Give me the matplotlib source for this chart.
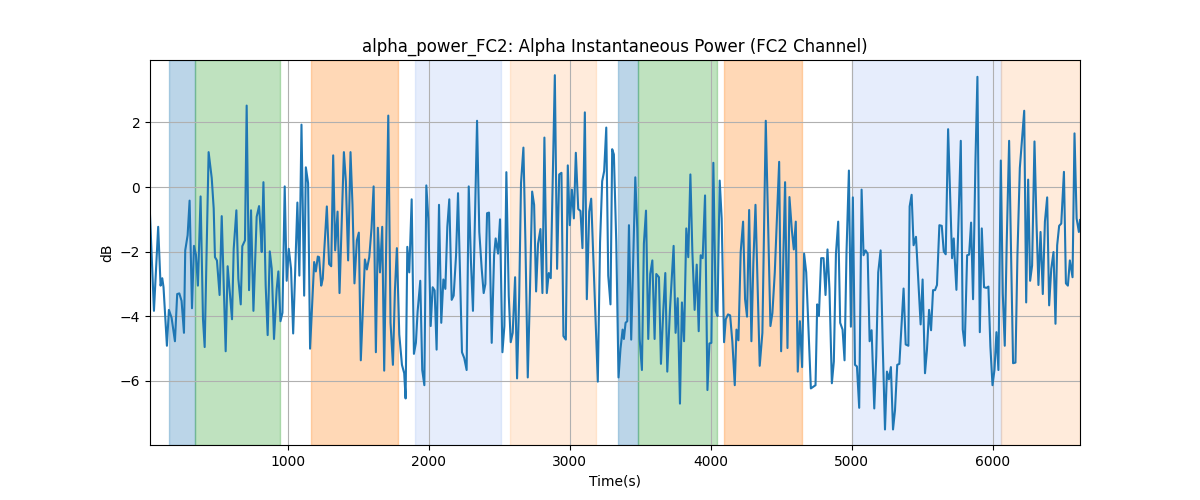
import numpy as np
import matplotlib
matplotlib.use("Agg")
import matplotlib.pyplot as plt

# time (s) and alpha power (dB)
t = [20, 48, 78, 95, 107, 116, 140, 154, 173, 197, 213, 228, 244, 261, 270, 287, 301, 318, 332, 346,
     360, 379, 396, 408, 436, 458, 472, 481, 495, 514, 529, 557, 571, 588, 602, 614, 633, 647, 664, 675,
     694, 706, 723, 737, 754, 777, 794, 803, 813, 825, 841, 855, 870, 884, 900, 919, 931, 946, 960, 976,
     990, 1005, 1021, 1036, 1066, 1080, 1095,
     1114, 1126, 1142, 1156, 1185, 1197, 1211, 1220, 1235, 1246, 1256, 1275, 1291, 1306, 1320, 1334, 1351, 1365, 1396, 1410,
     1426, 1443, 1457, 1471, 1488, 1502, 1516, 1545, 1559, 1576, 1592, 1607, 1623, 1637, 1652, 1668, 1682, 1711, 1727, 1744,
     1758, 1772, 1789, 1808, 1824, 1834, 1846, 1860, 1877, 1893, 1907, 1919, 1938, 1952, 1967, 1981, 1995, 2012, 2026, 2040,
     2054, 2071, 2087, 2102, 2116, 2130, 2144, 2161, 2175, 2192, 2206,
     2234, 2250, 2267, 2282, 2298, 2312, 2341, 2357, 2374, 2388, 2400, 2412, 2426, 2445, 2462, 2473, 2490, 2504, 2521, 2535,
     2549, 2566, 2580, 2594, 2611, 2625, 2640, 2653, 2670, 2684, 2701, 2715, 2732, 2746, 2760, 2774, 2791, 2805, 2819, 2836,
     2850, 2864, 2893, 2909, 2924, 2940, 2954, 2971, 2985, 2999, 3014, 3028, 3042, 3059, 3075, 3089, 3106, 3120, 3137, 3151,
     3198, 3214, 3229, 3243, 3258, 3272, 3288,
     3300, 3312, 3329, 3345, 3359, 3374, 3383, 3395, 3407, 3419, 3435, 3450, 3464, 3478, 3495, 3511, 3525, 3540, 3556, 3570,
     3585, 3601, 3613, 3632, 3646, 3663, 3677, 3691, 3710, 3736, 3750, 3765, 3781, 3795, 3810, 3826, 3840, 3855, 3869, 3885,
     3900, 3914, 3928, 3942, 3959, 3976, 3990, 4004, 4018, 4035, 4047, 4063, 4077, 4094, 4106, 4122, 4137, 4153, 4170, 4182,
     4196, 4212, 4229, 4243, 4257, 4272, 4288, 4302, 4317, 4333, 4347, 4366, 4390,
     4423, 4437, 4454, 4485, 4499, 4527, 4544, 4558, 4575, 4589, 4603, 4617, 4632, 4648, 4662, 4677, 4693, 4710, 4726, 4743,
     4755, 4767, 4783, 4800, 4814, 4828, 4842, 4859, 4873, 4888, 4904, 4918, 4935, 4949, 4963, 4980, 4994, 5008, 5023, 5037,
     5053, 5070, 5084, 5098, 5113, 5127, 5141, 5160, 5174, 5188, 5205, 5219, 5236, 5250, 5264, 5278, 5293, 5307, 5323, 5338,
     5352, 5368, 5383, 5402, 5411, 5425, 5439, 5456, 5473, 5489, 5503, 5520,
     5534, 5549, 5563, 5577, 5591, 5605, 5622, 5639, 5653, 5667, 5684, 5700, 5712, 5724, 5731, 5743, 5759, 5774, 5788, 5802,
     5819, 5833, 5847, 5861, 5878, 5892, 5909, 5923, 5939, 5956, 5970, 5984, 5999, 6013, 6027, 6041, 6058, 6072, 6086, 6100,
     6117, 6131, 6145, 6162, 6176, 6193, 6209, 6224, 6238, 6252, 6266, 6280, 6297, 6311, 6325, 6340, 6356, 6371, 6387, 6401,
     6416, 6432, 6446, 6458, 6472, 6487, 6506, 6520, 6534, 6548, 6567, 6581, 6596, 6612, 6620]

power_db = [-0.86, -3.83, -1.23, -3.05, -2.82, -3.10, -4.91, -3.80, -4.04, -4.77, -3.31, -3.29, -3.52, -4.51, -1.96, -1.49, -0.42, -3.75, -1.82, -2.09,
            -3.05, -0.29, -4.09, -4.95, 1.08, 0.28, -0.66, -2.17, -2.27, -3.34, -0.90, -5.08, -2.45, -3.36, -4.09, -1.91, -0.72, -2.84, -3.63, -1.83,
            -1.65, 2.52, -3.19, -0.72, -3.83, -0.92, -0.59, -1.18, -2.01, 0.15, -3.05, -4.58, -1.99, -2.53, -4.70, -3.16, -2.61, -4.15, -3.89, 0.02,
            -2.90, -1.91, -2.53, -4.53, -0.48, -2.74, 1.93,
            -3.36, 0.61, 0.12, -5.00, -2.32, -2.61, -2.15, -2.17, -3.05, -2.84, -2.01, -0.60, -2.38, -2.45, 0.98, -1.96, -0.76, -3.28, 1.08, 0.18,
            -2.27, 1.08, -0.55, -2.98, -1.65, -1.41, -5.36, -2.24, -2.55, -2.17, -1.28, 0.02, -5.11, -1.26, -2.64, -1.23, -5.68, 2.21, -4.20, -5.50,
            -3.21, -1.89, -4.56, -5.50, -5.76, -6.54, -1.85, -2.64, -0.38, -5.16, -4.82, -3.86, -2.90, -5.66, -6.13, 0.05, -0.97, -4.30, -3.10, -3.20,
            -5.03, -0.55, -4.20, -2.86, -3.15, -1.23, -0.38, -3.49, -3.36, -2.11, -0.19,
            -5.11, -5.29, -5.66, 0.02, -2.34, -3.83, 2.05, -1.39, -2.53, -3.28, -3.00, -0.81, -0.79, -4.82, -2.11, -1.59, -2.06, -1.00, -5.11, -4.30,
            0.46, -3.36, -4.80, -4.51, -2.79, -5.92, -3.40, 0.12, 1.22, -1.65, -5.89, -3.50, -0.14, -0.55, -3.23, -1.75, -1.30, -3.28, 1.53, -3.28,
            -2.66, -2.82, 3.46, -2.53, 0.39, 0.44, -4.61, -4.72, 0.67, -1.18, -0.08, -0.97, 1.06, -0.68, -0.74, -1.89, 2.31, -3.47, -0.76, -0.36,
            -6.02, -1.70, 0.18, 0.49, 1.84, -2.74, -3.63,
            1.17, 1.01, -1.70, -5.89, -5.00, -4.41, -4.70, -4.20, -4.15, -1.18, -4.72, -2.06, 0.30, -1.28, -4.70, -5.66, -1.75, -0.73, -4.70, -2.69,
            -2.27, -4.70, -2.69, -2.79, -5.47, -3.80, -2.66, -5.71, -3.80, -1.82, -4.51, -3.44, -6.70, -3.57, -4.77, -1.28, -2.17, 0.39, -2.00, -3.80,
            -2.40, -4.46, -2.11, -2.20, -0.26, -6.28, -4.84, -4.82, 0.75, -3.83, -3.99, 0.20, -0.97, -4.80, -4.09, -3.94, -3.97, -4.80, -6.13, -4.41,
            -4.74, -2.01, -1.07, -3.47, -4.01, -0.71, -4.77, -2.32, -0.55, -3.20, -5.53, -4.51, 2.05,
            -4.30, -3.90, -2.64, 0.78, -5.08, 0.15, -4.98, -0.31, -1.33, -1.93, -1.07, -5.71, -4.15, -5.57, -2.06, -2.64, -4.41, -6.23, -6.18, -6.13,
            -3.63, -3.99, -2.20, -2.20, -3.34, -1.93, -3.16, -6.07, -5.40, -2.06, -1.07, -4.20, -4.41, -5.36, -2.01, 0.51, -4.32, -0.32, -5.50, -5.55,
            -6.83, -0.08, -2.11, -1.96, -2.06, -4.77, -4.43, -6.85, -5.24, -2.64, -1.96, -4.72, -7.50, -5.71, -5.95, -5.57, -7.50, -6.91, -5.50, -5.47,
            -4.41, -3.14, -4.87, -4.91, -0.60, -0.24, -1.80, -1.54, -2.95, -4.25, -2.86, -5.76,
            -5.03, -3.80, -4.43, -3.19, -3.19, -3.03, -1.18, -1.20, -1.99, -2.08, 1.79, -0.45, -2.20, -1.59, -2.22, -3.18, -0.86, 1.43, -4.41, -4.91,
            -2.11, -2.09, -1.10, -3.47, 0.80, 3.41, -4.49, -1.28, -3.10, -3.12, -3.08, -4.93, -6.13, -5.66, -4.49, -5.66, 0.82, -3.30, -4.91, -1.70,
            1.43, -2.11, -5.45, -5.43, -2.11, 0.59, 1.50, 2.36, -3.57, 0.23, -2.90, -2.43, 1.41, -1.07, -3.03, -1.39, -3.31, -1.07, -0.32, -3.66,
            -2.53, -2.01, -4.23, -1.80, -1.20, -1.13, 0.47, -2.98, -3.05, -2.27, -2.79, 1.66, -0.97, -1.39, -1.02]

# shaded phases
span_start = [158, 340, 1160, 1898, 2572, 3340, 3485, 4094, 5004, 6060]
span_end = [340, 943, 1782, 2512, 3182, 3485, 4042, 4645, 6060, 6620]
span_color = ['tab:blue', 'tab:green', 'tab:orange', 'cornflowerblue', 'tab:orange',
              'tab:blue', 'tab:green', 'tab:orange', 'cornflowerblue', 'tab:orange']
span_alpha = [0.3, 0.3, 0.3, 0.16, 0.15, 0.3, 0.3, 0.3, 0.16, 0.15]

fig, ax = plt.subplots(figsize=(12, 5), dpi=100)

for s, e, c, a in zip(span_start, span_end, span_color, span_alpha):
    ax.axvspan(s, e, color=c, alpha=a)

ax.plot(t, power_db, color='tab:blue', lw=1.5)

ax.set_xlim(min(t), max(t))
ax.set_ylim(-7.98, 3.93)
ax.grid(True)
ax.set_title('alpha_power_FC2: Alpha Instantaneous Power (FC2 Channel)')
ax.set_xlabel('Time(s)')
ax.set_ylabel('dB')

fig.savefig('out.png')
